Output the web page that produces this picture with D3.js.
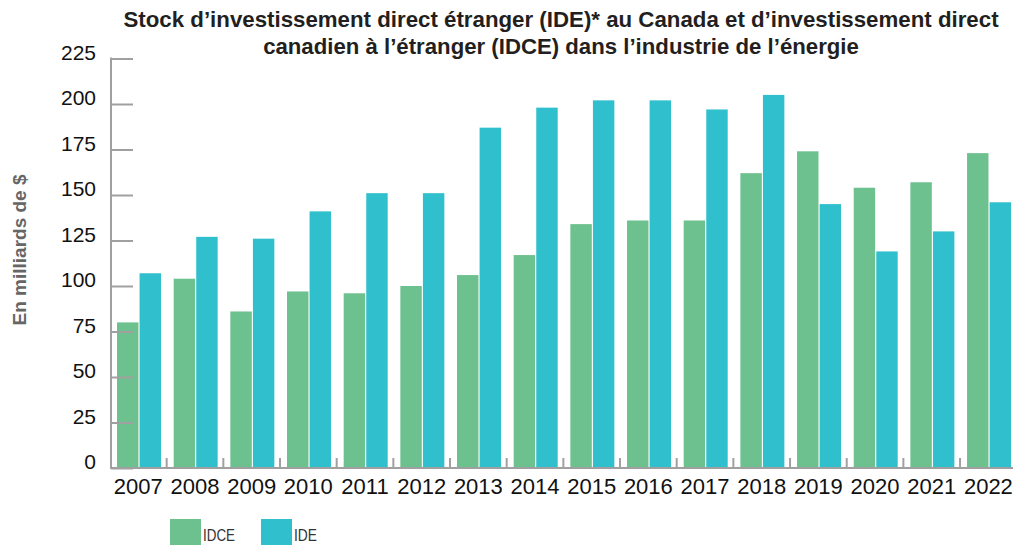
<!DOCTYPE html>
<html>
<head>
<meta charset="utf-8">
<script src="https://cdn.jsdelivr.net/npm/d3@7"></script>
<style>
  body { margin: 0; background: #fff; }
  svg { display: block; }
</style>
</head>
<body>
<script>
// données (milliards $)
var years = ["2007","2008","2009","2010","2011","2012","2013","2014","2015","2016","2017","2018","2019","2020","2021","2022"];
var idce = [80, 104, 86, 97, 96, 100, 106, 117, 134, 136, 136, 162, 174, 154, 157, 173];
var ide  = [107, 127, 126, 141, 151, 151, 187, 198, 202, 202, 197, 205, 145, 119, 130, 146];
var seriesNames = ["IDCE", "IDE"];
var yTicks = [0, 25, 50, 75, 100, 125, 150, 175, 200, 225];

var W = 1013, H = 545;
var colors = { IDCE: "#6cc18e", IDE: "#30bfcc" };
var narrow = "'Liberation Sans Narrow', 'Liberation Sans', Arial, sans-serif";
var sans = "'Liberation Sans', Arial, sans-serif";

var svg = d3.select("body").append("svg")
    .attr("width", W)
    .attr("height", H);

var x0 = d3.scaleBand().domain(years).range([110, 110 + 16 * 56.67]).padding(0);
var x1 = d3.scaleBand().domain(seriesNames).range([7, 51]).paddingInner(0.05);
var y = d3.scaleLinear().domain([0, 225]).range([468, 58.5]);

var rows = years.map(function(yr, i) {
  return { year: yr, IDCE: idce[i], IDE: ide[i] };
});

// texte étroit : on mesure puis on comprime horizontalement
function squeeze(sel, cx, cy, width, rotate) {
  var w = sel.node().getComputedTextLength();
  var k = Math.min(1, width / w);
  sel.attr("text-anchor", "middle")
     .attr("transform", "translate(" + cx + "," + cy + ")" + (rotate ? " rotate(-90)" : "") + " scale(" + k + ",1)");
}

// barres
var g = svg.selectAll("g.grp").data(rows).enter().append("g")
    .attr("class", "grp")
    .attr("transform", function(d) { return "translate(" + x0(d.year) + ",0)"; });

g.selectAll("rect").data(function(d) {
    return seriesNames.map(function(k) { return { key: k, value: d[k] }; });
  }).enter().append("rect")
    .attr("x", function(d) { return x1(d.key); })
    .attr("width", x1.bandwidth())
    .attr("y", function(d) { return y(d.value); })
    .attr("height", function(d) { return y(0) - y(d.value); })
    .attr("fill", function(d) { return colors[d.key]; });

// axe y
var yAxis = svg.append("g").attr("transform", "translate(111,0)")
    .call(d3.axisRight(y).tickValues(yTicks).tickSize(22).tickFormat(""));
yAxis.select(".domain").remove();
yAxis.selectAll(".tick line").attr("stroke", "#a0a0a0").attr("stroke-width", 2);
svg.append("line")
    .attr("x1", 111).attr("x2", 111)
    .attr("y1", y(225) - 1).attr("y2", y(0) + 1)
    .attr("stroke", "#a0a0a0").attr("stroke-width", 2);

svg.selectAll("text.ylab").data(yTicks).enter().append("text")
    .attr("class", "ylab")
    .attr("x", 96)
    .attr("y", function(d) { return y(d) + 1; })
    .attr("text-anchor", "end")
    .style("font-family", sans)
    .style("font-size", "21px")
    .style("fill", "#111")
    .text(function(d) { return d; });

// axe x
svg.append("line")
    .attr("x1", 110).attr("x2", W)
    .attr("y1", y(0)).attr("y2", y(0))
    .attr("stroke", "#a0a0a0").attr("stroke-width", 2);

svg.selectAll("line.xtick").data(years.slice(1)).enter().append("line")
    .attr("class", "xtick")
    .attr("x1", function(d) { return x0(d); })
    .attr("x2", function(d) { return x0(d); })
    .attr("y1", y(0)).attr("y2", y(0) - 10)
    .attr("stroke", "#a0a0a0").attr("stroke-width", 2);

svg.selectAll("text.xlab").data(years).enter().append("text")
    .attr("class", "xlab")
    .attr("x", function(d) { return x0(d) + x0.bandwidth() / 2; })
    .attr("y", 494)
    .attr("text-anchor", "middle")
    .style("font-family", sans)
    .style("font-size", "22px")
    .style("fill", "#111")
    .text(function(d) { return d; });

// titre
var titleLines = [
  "Stock d\u2019investissement direct \u00e9tranger (IDE)* au Canada et d\u2019investissement direct",
  "canadien \u00e0 l\u2019\u00e9tranger (IDCE) dans l\u2019industrie de l\u2019\u00e9nergie"
];
var titleW = [876, 596];
titleLines.forEach(function(t, i) {
  var tx = svg.append("text")
      .style("font-family", narrow)
      .style("font-weight", "bold")
      .style("font-size", "22.5px")
      .style("fill", "#231f20")
      .text(t);
  squeeze(tx, 561, 27 + i * 27, titleW[i], false);
});

// titre axe y
var ylab = svg.append("text")
    .style("font-family", narrow)
    .style("font-weight", "bold")
    .style("font-size", "19px")
    .style("fill", "#666")
    .text("En milliards de $");
squeeze(ylab, 26, 250, 154, true);

// légende
var legX = [170, 261];
var legW = [32, 23];
var leg = svg.selectAll("g.leg").data(seriesNames).enter().append("g")
    .attr("class", "leg")
    .attr("transform", function(d, i) { return "translate(" + legX[i] + ",519)"; });
leg.append("rect").attr("width", 31).attr("height", 26)
    .attr("fill", function(d) { return colors[d]; });
leg.append("text").attr("x", 33).attr("y", 22)
    .attr("textLength", function(d, i) { return legW[i]; })
    .attr("lengthAdjust", "spacingAndGlyphs")
    .style("font-family", narrow)
    .style("font-size", "16px")
    .style("fill", "#333")
    .text(function(d) { return d; });
</script>
</body>
</html>
